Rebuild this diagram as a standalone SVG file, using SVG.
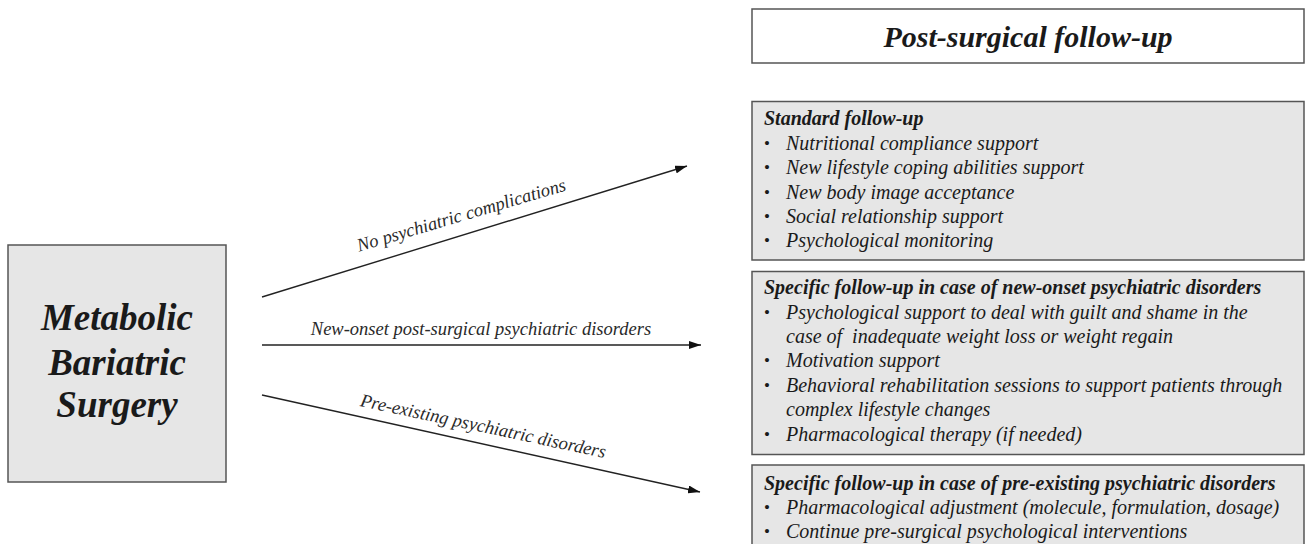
<svg xmlns="http://www.w3.org/2000/svg" width="1309" height="544" viewBox="0 0 1309 544">
<defs>
<marker id="ah" viewBox="0 0 12 8" refX="12" refY="4" markerWidth="12" markerHeight="8" markerUnits="userSpaceOnUse" orient="auto">
<path d="M0,0 L12,4 L0,8 z" fill="#111"/>
</marker>
<style>
.box{fill:#e6e6e6;stroke:#555;stroke-width:1.5}
.wbox{fill:#fff;stroke:#555;stroke-width:1.5}
text{font-family:'Liberation Serif',Tinos,'Times New Roman','DejaVu Serif',serif}
.t{font-style:italic;fill:#1a1a1a}
.b{font-weight:bold}
.item{font-size:20px}
.hd{font-size:20px;font-weight:bold}
.bul{font-size:17px;fill:#1a1a1a}
.lab{font-size:18.5px;fill:#2a2a2a}
.conn{stroke:#222;stroke-width:1.4;fill:none;marker-end:url(#ah)}
</style>
</defs>
<rect width="1309" height="544" fill="#fff"/>

<g id="node-surgery">
<rect class="box" x="8" y="245" width="218" height="237"/>
<text class="t b" x="117" y="330" font-size="37" text-anchor="middle">Metabolic</text>
<text class="t b" x="117" y="375" font-size="37" text-anchor="middle">Bariatric</text>
<text class="t b" x="117" y="417" font-size="37" text-anchor="middle">Surgery</text>
</g>

<g id="node-title">
<rect class="wbox" x="752" y="9" width="552" height="54"/>
<text class="t b" x="1028" y="47" font-size="30" text-anchor="middle">Post-surgical follow-up</text>
</g>

<g id="node-standard">
<rect class="box" x="752" y="101.5" width="552" height="158.5"/>
<text class="t hd" x="764" y="125">Standard follow-up</text>
<text class="bul" x="764" y="149">•</text><text class="t item" x="786" y="150">Nutritional compliance support</text>
<text class="bul" x="764" y="173">•</text><text class="t item" x="786" y="174">New lifestyle coping abilities support</text>
<text class="bul" x="764" y="197.5">•</text><text class="t item" x="786" y="198.5">New body image acceptance</text>
<text class="bul" x="764" y="221.5">•</text><text class="t item" x="786" y="222.5">Social relationship support</text>
<text class="bul" x="764" y="246">•</text><text class="t item" x="786" y="247">Psychological monitoring</text>
</g>

<g id="node-new-onset">
<rect class="box" x="752" y="271.5" width="552" height="183"/>
<text class="t hd" x="764" y="294">Specific follow-up in case of new-onset psychiatric disorders</text>
<text class="bul" x="764" y="317.5">•</text><text class="t item" x="786" y="318.5">Psychological support to deal with guilt and shame in the</text>
<text class="t item" x="786" y="343">case of&#160; inadequate weight loss or weight regain</text>
<text class="bul" x="764" y="366">•</text><text class="t item" x="786" y="367">Motivation support</text>
<text class="bul" x="764" y="390.5">•</text><text class="t item" x="786" y="391.5">Behavioral rehabilitation sessions to support patients through</text>
<text class="t item" x="786" y="416">complex lifestyle changes</text>
<text class="bul" x="764" y="439.5">•</text><text class="t item" x="786" y="440.5">Pharmacological therapy (if needed)</text>
</g>

<g id="node-pre-existing">
<rect class="box" x="752" y="465" width="552" height="100"/>
<text class="t hd" x="764" y="490">Specific follow-up in case of pre-existing psychiatric disorders</text>
<text class="bul" x="764" y="513">•</text><text class="t item" x="786" y="514">Pharmacological adjustment (molecule, formulation, dosage)</text>
<text class="bul" x="764" y="537">•</text><text class="t item" x="786" y="538">Continue pre-surgical psychological interventions</text>
</g>

<g id="connectors">
<line class="conn" x1="262" y1="297" x2="687" y2="166"/>
<text class="t lab" transform="translate(463,221) rotate(-16.5)" text-anchor="middle">No psychiatric complications</text>
<line class="conn" x1="262" y1="345" x2="701" y2="345"/>
<text class="t lab" x="481" y="335" text-anchor="middle">New-onset post-surgical psychiatric disorders</text>
<line class="conn" x1="262" y1="395" x2="700" y2="492"/>
<text class="t lab" transform="translate(482,432) rotate(12)" text-anchor="middle">Pre-existing psychiatric disorders</text>
</g>
</svg>
